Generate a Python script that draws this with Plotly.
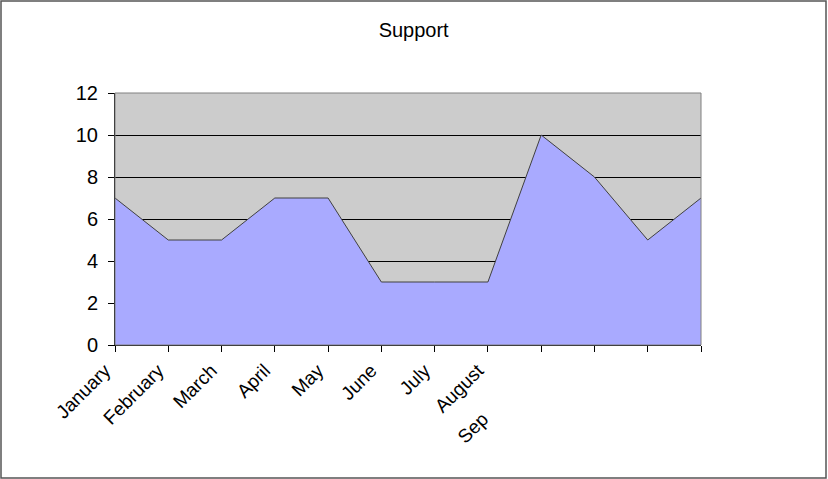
import plotly.graph_objects as go

categories = ["January", "February", "March", "April", "May", "June", "July",
              "August", "Sep", "Oct", "Nov", "Dec"]
tick_labels = ["January", "February", "March", "April", "May", "June", "July",
               "August", "Sep" + "\u00a0" * 13, "", "", ""]
support = [7, 5, 5, 7, 7, 3, 3, 3, 10, 8, 5, 7]
y_ticks = [0, 2, 4, 6, 8, 10, 12]

idx = list(range(len(categories)))

fig = go.Figure()
fig.add_trace(go.Scatter(
    x=idx, y=support, mode="lines", fill="tozeroy",
    fillcolor="#A9AAFF", line=dict(color="#404040", width=1),
    name="Support", hoverinfo="y", showlegend=False,
))

fig.update_layout(
    width=828, height=479,
    margin=dict(l=115, r=127, t=93, b=134),
    paper_bgcolor="white", plot_bgcolor="#CCCCCC",
    font=dict(family="Liberation Sans, Arial, sans-serif", color="black"),
    title=dict(text="Support", x=422 / 828, xref="paper", xanchor="center",
               y=1 - 30 / 479, yanchor="middle", yref="container",
               font=dict(size=20)),
    shapes=[
        dict(type="rect", xref="paper", yref="paper", x0=0, x1=1, y0=0, y1=1,
             line=dict(color="#808080", width=1), layer="above"),
        dict(type="rect", xref="paper", yref="paper",
             x0=-114 / 586, x1=(826 - 115) / 586,
             y0=-133 / 252, y1=(345 - 1) / 252,
             line=dict(color="#555555", width=1.5)),
    ],
)

fig.update_xaxes(
    range=[0, len(categories) - 1], tickmode="array", tickvals=idx,
    ticktext=tick_labels, tickangle=-45, ticks="outside", ticklen=6,
    tickcolor="black", showgrid=False, zeroline=False,
    showline=True, linecolor="black", linewidth=1,
    tickfont=dict(size=19), ticklabelshift=-10, fixedrange=True,
)
fig.update_yaxes(
    range=[0, 12], tickvals=y_ticks, ticks="outside", ticklen=6,
    tickcolor="black", showgrid=True, gridcolor="black", gridwidth=1,
    zeroline=False, showline=True, linecolor="black", linewidth=1,
    tickfont=dict(size=20), ticklabelstandoff=6, fixedrange=True,
)

fig.write_html("out.html")
